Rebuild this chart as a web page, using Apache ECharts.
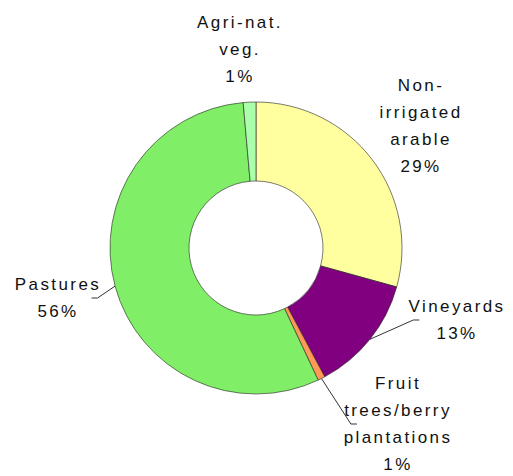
<!DOCTYPE html>
<html>
<head>
<meta charset="utf-8">
<script src="https://cdn.jsdelivr.net/npm/echarts@6/dist/echarts.min.js"></script>
<style>
  html, body { margin: 0; padding: 0; background: #fff; }
  #chart { width: 513px; height: 476px; }
  #chart text { letter-spacing: 2.4px; }
</style>
</head>
<body>
<div id="chart"></div>
<script>
// land use shares (%)
var categories = ['Non-\nirrigated\narable', 'Vineyards', 'Fruit\ntrees/berry\nplantations', 'Pastures', 'Agri-nat.\nveg.'];
var values = [29.3, 12.9, 0.8, 55.6, 1.4];
var colors = ['#ffffa0', '#800080', '#ff9955', '#80ee66', '#aaffaa'];
var showLine = [false, true, true, true, false];

// label centres (layout only)
var labelPos = [[421, 126], [457, 320], [398, 424], [58, 298], [240, 49]];

var chart = echarts.init(document.getElementById('chart'), null, { renderer: 'svg' });

var pieData = [];
for (var i = 0; i < categories.length; i++) {
    pieData.push({
        name: categories[i],
        value: values[i],
        itemStyle: { color: colors[i] },
        labelLine: { show: showLine[i] }
    });
}

chart.setOption({
    animation: false,
    series: [
        {
            type: 'pie',
            center: [256, 248],
            radius: [67, 146],
            startAngle: 90,
            clockwise: true,
            avoidLabelOverlap: false,
            itemStyle: {
                borderColor: '#222',
                borderWidth: 0.6
            },
            label: {
                show: true,
                color: '#111',
                fontFamily: 'Liberation Sans, Arial, sans-serif',
                fontSize: 17,
                lineHeight: 27,
                align: 'center',
                formatter: function (p) {
                    return p.name + '\n' + Math.round(p.percent) + '%';
                }
            },
            labelLine: {
                lineStyle: { color: '#333', width: 1 },
                length: 8,
                length2: 6
            },
            labelLayout: function (params) {
                var pos = labelPos[params.dataIndex];
                return { x: pos[0], y: pos[1], align: 'center', verticalAlign: 'middle' };
            },
            data: pieData
        }
    ]
});
</script>
</body>
</html>
